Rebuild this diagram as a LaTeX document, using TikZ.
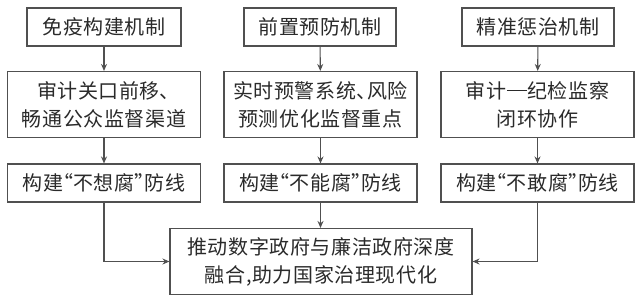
\documentclass[tikz,border=0pt]{standalone}
\usepackage{fontspec}
\setmainfont{Noto Sans CJK SC}[LetterSpace=3]
\usetikzlibrary{arrows.meta}
\definecolor{linegray}{HTML}{505050}
\definecolor{textgray}{HTML}{2a2a2a}
\newcommand{\dunhao}{\makebox[0.55em][l]{、}}
\newcommand{\lquo}{\makebox[0.5em][r]{“}}
\newcommand{\rquo}{\makebox[0.5em][l]{”}}
\newcommand{\longdash}{\makebox[1.05em]{\rule[0.36em]{1em}{0.06em}}}

\begin{document}
\begin{tikzpicture}[x=1pt,y=-1pt,
  box/.style={draw=linegray,line width=1.1pt,inner sep=0pt,align=center,
    text=textgray,font=\fontsize{20}{28}\selectfont},
  arr/.style={draw=linegray,line width=1.1pt,-{Stealth[length=7pt,width=6pt]}}]
  \useasboundingbox (0,0) rectangle (637,298);

  % mechanisms
  \node[box,minimum width=154,minimum height=38] (t1) at (104,27) {免疫构建机制};
  \node[box,minimum width=152,minimum height=38] (t2) at (320,27) {前置预防机制};
  \node[box,minimum width=152,minimum height=38] (t3) at (538,27) {精准惩治机制};

  % measures
  \node[box,minimum width=193,minimum height=66] (m1) at (104,104.5)
    {审计关口前移\dunhao\\畅通公众监督渠道};
  \node[box,minimum width=193,minimum height=66] (m2) at (320.5,104.5)
    {实时预警系统\dunhao 风险\\预测优化监督重点};
  \node[box,minimum width=193,minimum height=66] (m3) at (537.5,104.5)
    {审计\longdash 纪检监察\\闭环协作};

  % lines of defence
  \node[box,minimum width=193,minimum height=38] (d1) at (104,183) {构建\lquo 不想腐\rquo 防线};
  \node[box,minimum width=193,minimum height=38] (d2) at (320.5,183) {构建\lquo 不能腐\rquo 防线};
  \node[box,minimum width=193,minimum height=38] (d3) at (537.5,183) {构建\lquo 不敢腐\rquo 防线};

  \node[box,minimum width=302,minimum height=66] (goal) at (321,261.5)
    {推动数字政府与廉洁政府深度\\融合,助力国家治理现代化};

  \foreach \i in {1,2,3} {
    \draw[arr] (t\i) -- (m\i);
    \draw[arr] (m\i) -- (d\i);
  }
  \draw[arr] (d2.south) -- (d2.south |- goal.north);
  \draw[arr] (d1.south) |- (goal.west);
  \draw[arr] (d3.south) |- (goal.east);
\end{tikzpicture}
\end{document}
